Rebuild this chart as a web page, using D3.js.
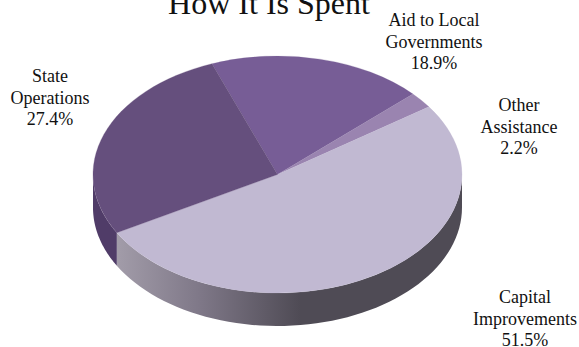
<!DOCTYPE html>
<html>
<head>
<meta charset="utf-8">
<style>
html,body{margin:0;padding:0;background:#fff}
svg{display:block}
text{font-family:"Liberation Serif",serif;fill:#111}
</style>
<script src="https://cdn.jsdelivr.net/npm/d3@7"></script>
</head>
<body>
<svg id="chart" width="579" height="347"></svg>
<script>
// Budget shares, in drawing order clockwise from the first slice
const categories = ["Aid to Local Governments", "Other Assistance", "Capital Improvements", "State Operations"];
const shares = [18.9, 2.2, 51.5, 27.4];
const topColors = ["#775d96", "#9a84b0", "#c1b9d2", "#654f7d"];
const labelLines = [["Aid to Local", "Governments", "18.9%"], ["Other", "Assistance", "2.2%"], ["Capital", "Improvements", "51.5%"], ["State", "Operations", "27.4%"]];
const labelAnchors = [[434, 26], [519, 111], [525, 302.5], [50, 82]];
const lineOffsets = [0, 22, 43];
const title = "How It Is Spent";

const width = 579, height = 347;
const cx = 277.5, cy = 174.5, rx = 184.5, ry = 118.5, depth = 33;
const firstAngle = -20.8 * Math.PI / 180;

const svg = d3.select("#chart");
const pie = d3.pie().sort(null).startAngle(firstAngle).endAngle(firstAngle + 2 * Math.PI);
const arcs = pie(shares);

// Ellipse position for a pie angle (0 at twelve o'clock, clockwise)
const px = a => cx + rx * Math.sin(a);
const py = (a, drop) => cy - ry * Math.cos(a) + drop;

// Gradient across the front wall of the large slice
const defs = svg.append("defs");
const grad = defs.append("linearGradient").attr("id", "wallGrad")
  .attr("gradientUnits", "userSpaceOnUse")
  .attr("x1", 117).attr("x2", 300).attr("y1", 0).attr("y2", 0);
grad.append("stop").attr("offset", 0).attr("stop-color", "#a29ca9");
grad.append("stop").attr("offset", 0.45).attr("stop-color", "#7f7888");
grad.append("stop").attr("offset", 1).attr("stop-color", "#4f4b55");

// Builds the visible wall of a slice: rim of the top ellipse and the same rim shifted down
function wallPath(a0, a1) {
  const steps = d3.range(0, 61).map(i => a0 + (a1 - a0) * i / 60);
  const rim = d3.line()(steps.map(a => [px(a), py(a, 0)]));
  const lower = d3.line()(steps.slice().reverse().map(a => [px(a), py(a, depth)]));
  return rim + "L" + lower.slice(1) + "Z";
}

// Only the front half of the ellipse (90 to 270 degrees) shows a wall
const front0 = Math.PI / 2, front1 = 3 * Math.PI / 2;
const capital = arcs[2], state = arcs[3];
const walls = svg.append("g");
walls.append("path")
  .attr("d", wallPath(front0, capital.endAngle))
  .attr("fill", "url(#wallGrad)");
walls.append("path")
  .attr("d", wallPath(state.startAngle, front1))
  .attr("fill", "#503c68");

// Top face: a circular pie squashed into the ellipse
const arc = d3.arc().innerRadius(0).outerRadius(rx);
svg.append("g")
  .attr("transform", `translate(${cx},${cy}) scale(1,${ry / rx})`)
  .selectAll("path")
  .data(arcs)
  .join("path")
  .attr("d", arc)
  .attr("fill", (d, i) => topColors[i])
  .attr("stroke", (d, i) => topColors[i])
  .attr("stroke-width", 0.3);

svg.append("text")
  .attr("x", 269).attr("y", 13.5)
  .attr("text-anchor", "middle")
  .style("font-size", "32px")
  .text(title);

svg.append("g")
  .selectAll("text")
  .data(labelLines)
  .join("text")
  .attr("text-anchor", "middle")
  .style("font-size", "18px")
  .attr("aria-label", (d, i) => categories[i])
  .each(function (lines, i) {
    d3.select(this).selectAll("tspan")
      .data(lines)
      .join("tspan")
      .attr("x", labelAnchors[i][0])
      .attr("y", (l, k) => labelAnchors[i][1] + lineOffsets[k])
      .text(l => l);
  });
</script>
</body>
</html>
